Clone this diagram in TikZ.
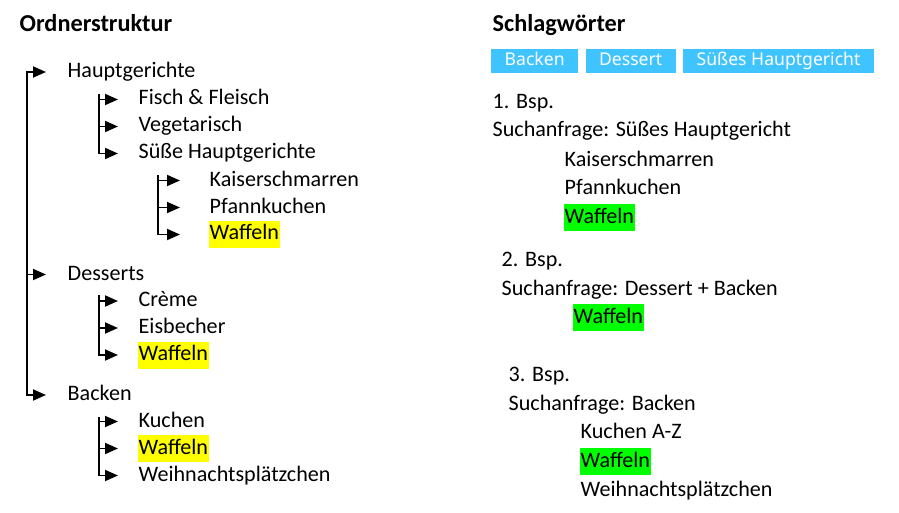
\documentclass[tikz,border=0pt]{standalone}
\usepackage{fontspec}
\usepackage{xcolor}
\setmainfont{Carlito}
\newfontfamily\tagfont{Noto Sans}
\usetikzlibrary{arrows.meta,positioning}
\definecolor{tagblue}{HTML}{40C4FF}
\definecolor{markgreen}{HTML}{00FF00}
\definecolor{markyellow}{HTML}{FFFF00}

\begin{document}
\begin{tikzpicture}[x=1pt,y=-1pt]
    \tikzstyle{item}=[anchor=west, yshift=-1.5pt, inner xsep=0.5pt, inner ysep=3pt, text height=16pt, text depth=5pt, font=\fontsize{22.1}{26}\selectfont]
    \tikzstyle{head}=[item, font=\fontsize{24.3}{28}\selectfont\bfseries]
    \tikzstyle{hly}=[item, fill=markyellow]
    \tikzstyle{hlg}=[item, fill=markgreen]
    \tikzstyle{tag}=[fill=tagblue, text=white, inner xsep=13.5pt, inner ysep=0pt, minimum height=24pt, text height=13pt, text depth=3pt, font=\tagfont\fontsize{17.6}{20}\selectfont]
    \tikzstyle{tree}=[line width=1.8pt, line cap=rect]
    \tikzstyle{connect}=[-{Triangle[length=13pt,width=11pt]}, line width=1.8pt, line cap=rect]
    \useasboundingbox (0,0) rectangle (899,513);
    % Ordnerstruktur
    \node[head] (ordner) at (19,25) {Ordnerstruktur};
    \node[item] (haupt) at (67,70.5) {Hauptgerichte};
    \node[item] (fisch) at (138,98) {Fisch \& Fleisch};
    \node[item] (veg) at (138,125) {Vegetarisch};
    \node[item] (suess) at (138,152) {Süße Hauptgerichte};
    \node[item] (kaiser) at (209,179) {Kaiserschmarren};
    \node[item] (pfann) at (209,206) {Pfannkuchen};
    \node[hly] (waffa) at (209,233) {Waffeln};
    \node[item] (dess) at (67,273) {Desserts};
    \node[item] (creme) at (138,299.5) {Crème};
    \node[item] (eis) at (138,326.5) {Eisbecher};
    \node[hly] (waffb) at (138,353.5) {Waffeln};
    \node[item] (back) at (67,393.5) {Backen};
    \node[item] (kuchen) at (138,420) {Kuchen};
    \node[hly] (waffc) at (138,447) {Waffeln};
    \node[item] (weih) at (138,474) {Weihnachtsplätzchen};
    \coordinate (c1) at (27,0);
    \coordinate (c2) at (99,0);
    \coordinate (c3) at (158,0);
    \draw[tree] (haupt.west -| c1) -- (back.west -| c1);
    \draw[tree] ([yshift=5pt]fisch.west -| c2) -- (suess.west -| c2);
    \draw[tree] ([yshift=5pt]kaiser.west -| c3) -- (waffa.west -| c3);
    \draw[tree] ([yshift=5pt]creme.west -| c2) -- (waffb.west -| c2);
    \draw[tree] ([yshift=4pt]kuchen.west -| c2) -- (weih.west -| c2);
    \foreach \n in {haupt,dess,back}
        \draw[connect,shorten >=21pt] (\n.west -| c1) -- (\n.west);
    \foreach \n in {fisch,veg,suess,creme,eis,waffb,kuchen,waffc,weih}
        \draw[connect,shorten >=20pt] (\n.west -| c2) -- (\n.west);
    \foreach \n in {kaiser,pfann,waffa}
        \draw[connect,shorten >=29pt] (\n.west -| c3) -- (\n.west);
    % Schlagwoerter
    \node[head] (schlag) at (492,25) {Schlagwörter};
    \node[tag,anchor=west] (tback) at (491,61) {Backen};
    \node[tag,right=7pt of tback] (tdess) {Dessert};
    \node[tag,right=7pt of tdess] (tsuess) {Süßes Hauptgericht};
    \node[item] (bspa) at (492,101.5) {1. Bsp.};
    \node[item] (fraga) at (492,130) {Suchanfrage: Süßes Hauptgericht};
    \node[item] (kaiserr) at (564,159.5) {Kaiserschmarren};
    \node[item] (pfannr) at (564,188) {Pfannkuchen};
    \node[hlg] (waffd) at (564,216) {Waffeln};
    \node[item] (bspb) at (501,259.5) {2. Bsp.};
    \node[item] (fragb) at (501,288) {Suchanfrage: Dessert + Backen};
    \node[hlg] (waffe) at (573,316) {Waffeln};
    \node[item] (bspc) at (508,374.5) {3. Bsp.};
    \node[item] (fragc) at (508,403) {Suchanfrage: Backen};
    \node[item] (kuchenr) at (580,431.5) {Kuchen A-Z};
    \node[hlg] (wafff) at (580,460) {Waffeln};
    \node[item] (weihr) at (580,489.5) {Weihnachtsplätzchen};
\end{tikzpicture}
\end{document}
